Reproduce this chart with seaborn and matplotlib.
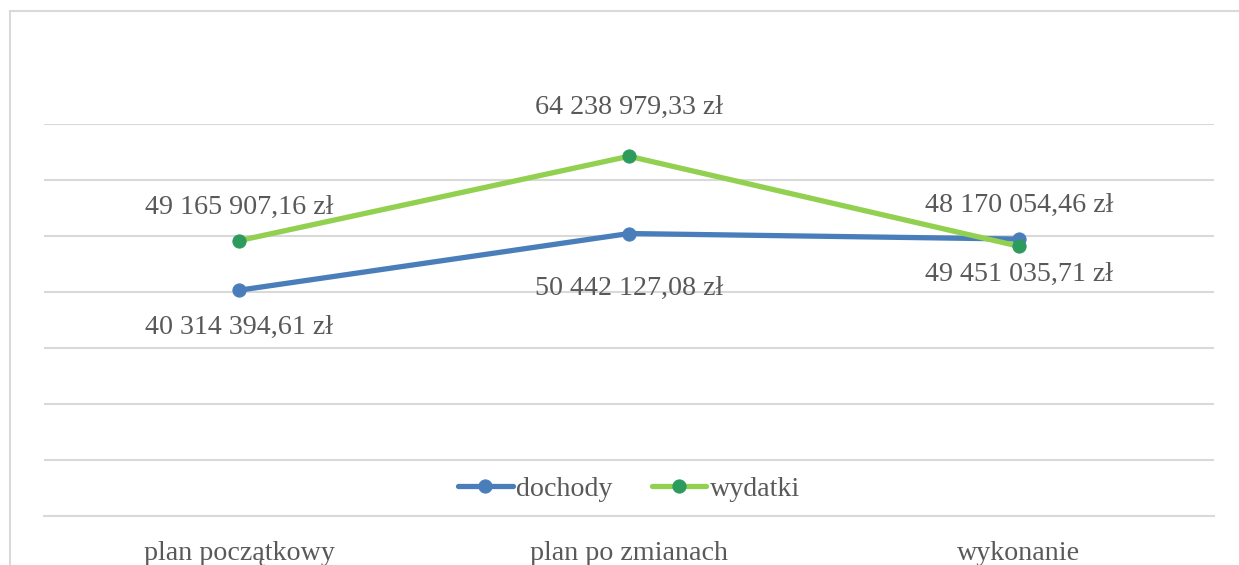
import numpy as np
import pandas as pd
import matplotlib
matplotlib.use("Agg")
import matplotlib.pyplot as plt
import seaborn as sns

# Data
categories = ["plan początkowy", "plan po zmianach", "wykonanie"]
dochody = [40314394.61, 50442127.08, 49451035.71]
wydatki = [49165907.16, 64238979.33, 48170054.46]
series_names = ["dochody", "wydatki"]


def fmt_pln(v):
    # Polish format: space thousands separator, comma decimals
    s = f"{v:,.2f}".replace(",", " ").replace(".", ",")
    return s + " zł"


sns.set_theme(style="white")
plt.rcParams["font.family"] = ["Liberation Serif", "DejaVu Serif"]

TEXT = "#595959"
GRID = "#d9d9d9"
BLUE = "#4a7ebb"
GREEN_LINE = "#92d050"
GREEN_MARK = "#2e9b5e"
FS = 20.2

df = pd.DataFrame({
    "kategoria": categories * 2,
    "kwota": dochody + wydatki,
    "seria": [series_names[0]] * 3 + [series_names[1]] * 3,
})

fig = plt.figure(figsize=(12.39, 5.65), dpi=100)
ax = fig.add_axes([44 / 1239, 1 - 516 / 565, 1170 / 1239, 392 / 565])

# chart border (light gray frame)
fig.add_artist(plt.Rectangle((10 / 1239, -0.1), 1.2, 1 - 11 / 565 + 0.1,
                             transform=fig.transFigure, fill=False,
                             edgecolor=GRID, linewidth=1.5))

styles = {
    "dochody": dict(color=BLUE, markerfacecolor=BLUE, markeredgecolor=BLUE),
    "wydatki": dict(color=GREEN_LINE, markerfacecolor=GREEN_MARK, markeredgecolor=GREEN_MARK),
}
for name in series_names:
    sub = df[df["seria"] == name]
    sns.lineplot(data=sub, x="kategoria", y="kwota", ax=ax, sort=False,
                 marker="o", markersize=9.5, linewidth=3.8, label=name,
                 **styles[name])

# data labels: dochody below, wydatki above (offsets in px)
off_d = [-37, -55, -35]
off_w = [33, 49, 41]
for i in range(len(categories)):
    ax.annotate(fmt_pln(dochody[i]), (i, dochody[i]), xytext=(0, off_d[i] * 0.72),
                textcoords="offset points", ha="center", va="center",
                fontsize=FS, color=TEXT, annotation_clip=False)
    ax.annotate(fmt_pln(wydatki[i]), (i, wydatki[i]), xytext=(0, off_w[i] * 0.72),
                textcoords="offset points", ha="center", va="center",
                fontsize=FS, color=TEXT, annotation_clip=False)

ax.set_xlim(-0.5, 2.5)
ax.set_ylim(0, 70_000_000)
ax.set_yticks(np.arange(0, 70_000_001, 10_000_000))
ax.yaxis.grid(True, color=GRID, linewidth=1.5)
ax.set_yticklabels([])
ax.tick_params(axis="y", length=0)
ax.tick_params(axis="x", length=0, pad=18, labelsize=FS, labelcolor=TEXT)
ax.set_xlabel("")
ax.set_ylabel("")
for side in ["top", "left", "right"]:
    ax.spines[side].set_visible(False)
ax.spines["bottom"].set_color(GRID)
ax.spines["bottom"].set_linewidth(1.5)
ax.set_axisbelow(True)

leg = ax.legend(loc="center", bbox_to_anchor=(0.5, 27 / 392), ncol=2,
                frameon=False, fontsize=FS, handlelength=1.95,
                handletextpad=0.12, columnspacing=1.4, borderpad=0)
for t in leg.get_texts():
    t.set_color(TEXT)

fig.savefig("out.png", dpi=100, facecolor="white")
